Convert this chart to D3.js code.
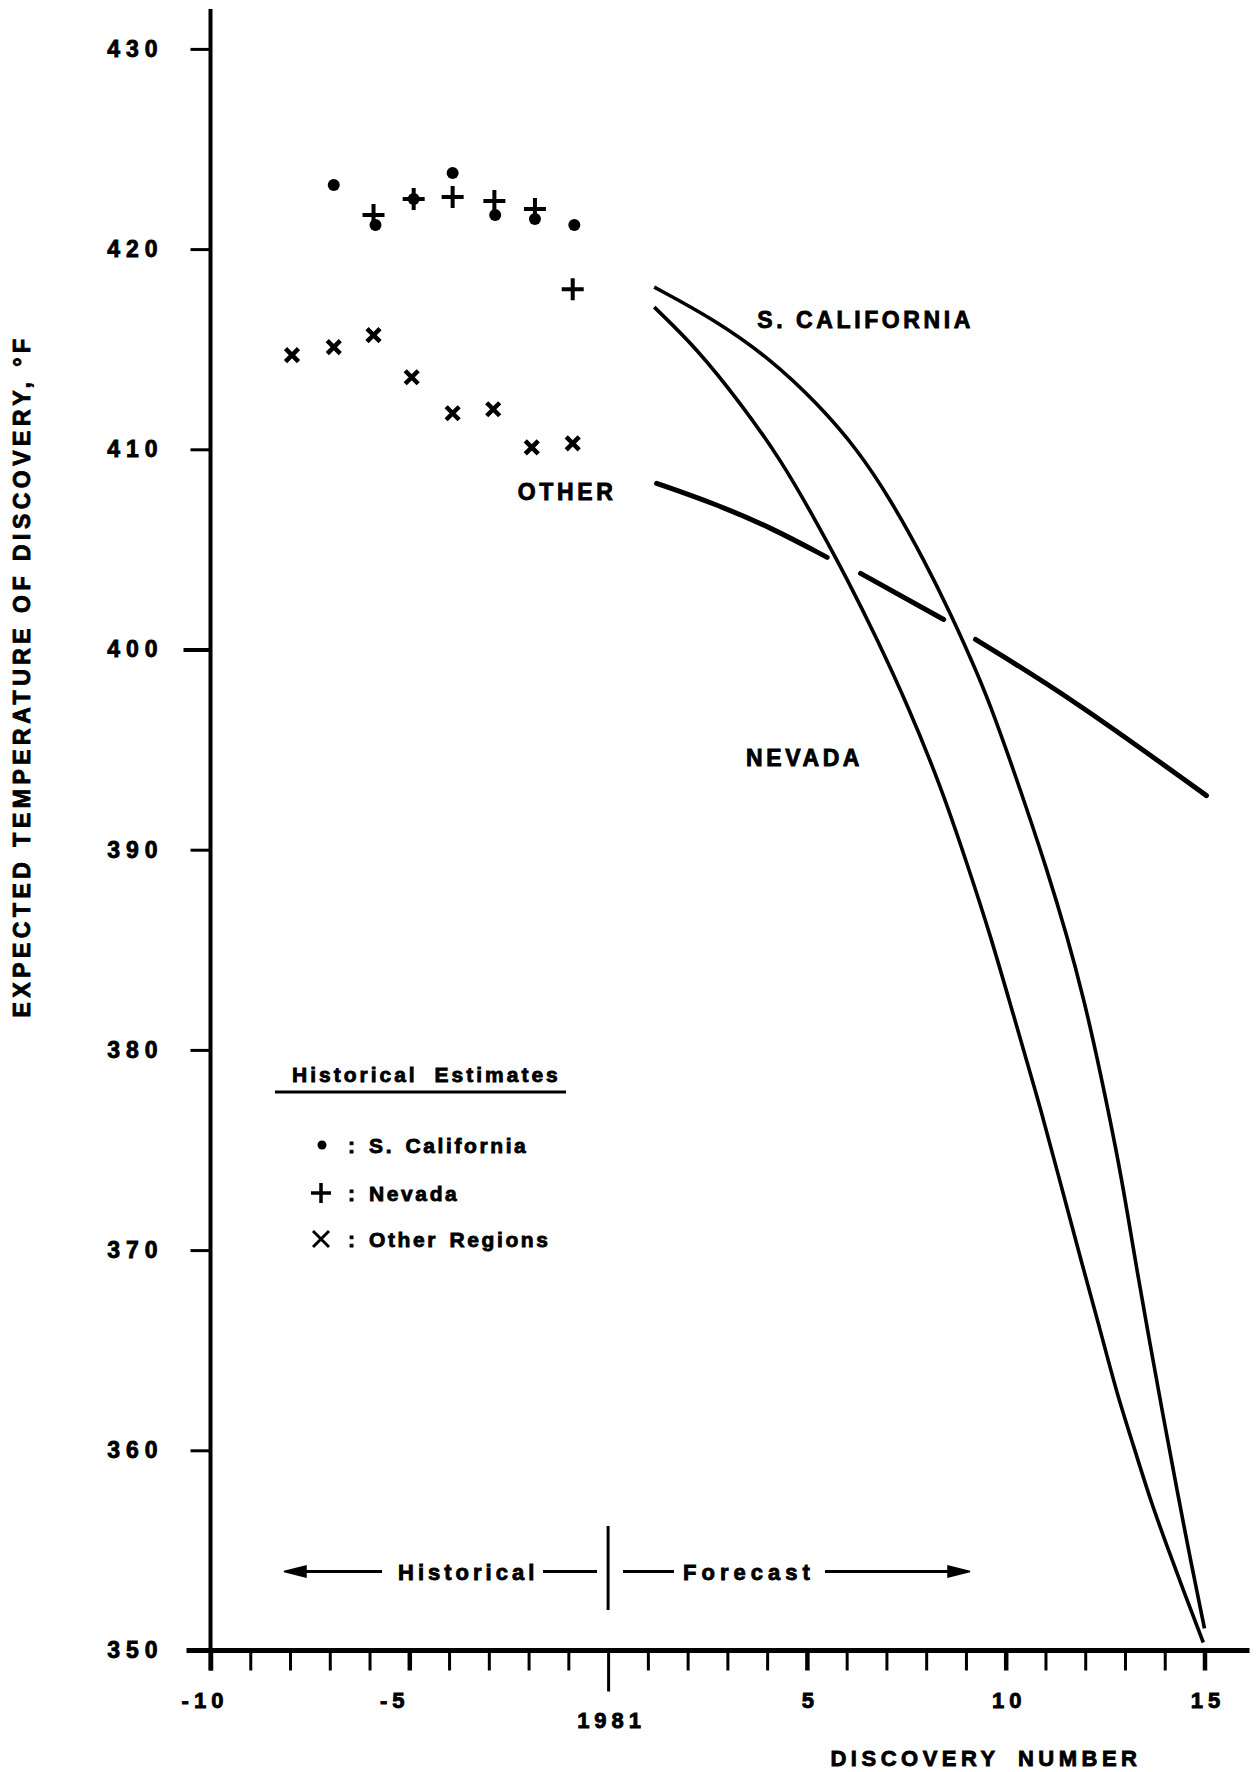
<!DOCTYPE html>
<html>
<head>
<meta charset="utf-8">
<title>Expected temperature of discovery</title>
<style>
  body { margin: 0; background: #fff; }
  svg text { font-family: "Liberation Sans", Arial, sans-serif; font-weight: bold; fill: #000; stroke: #000; stroke-width: 0.85px; }
</style>
</head>
<body>
<svg id="viz" width="1256" height="1772"></svg>
<script src="https://d3js.org/d3.v7.min.js"></script>
<script>
// ---- data ----
const yTicks = [350, 360, 370, 380, 390, 400, 410, 420, 430];
const xTicks = d3.range(-10, 16);
const xLabelVals = [-10, -5, 0, 5, 10, 15];
const xLabelText = ["-10", "-5", "1981", "5", "10", "15"];

// historical estimates (points)
const scalHistX = [-6.9, -5.85, -4.89, -3.91, -2.84, -1.84, -0.85];
const scalHistY = [423.2, 421.2, 422.5, 423.8, 421.7, 421.5, 421.2];
const nevHistX = [-5.9, -4.89, -3.91, -2.86, -1.84, -0.89];
const nevHistY = [421.7, 422.5, 422.6, 422.4, 422.0, 418.0];
const othHistX = [-7.95, -6.9, -5.9, -4.94, -3.91, -2.89, -1.92, -0.89];
const othHistY = [414.7, 415.1, 415.7, 413.6, 411.8, 412.0, 410.1, 410.3];

// forecast curves
const scalFcX = [1.16, 2.66, 4.09, 5.26, 6.27, 7.10, 7.94, 8.61, 9.11, 9.57, 10.37, 11.04, 11.54, 11.96, 12.38, 12.80, 13.05, 13.30, 13.64, 13.97, 14.31, 14.64, 15.0];
const scalFcY = [418.1, 416.5, 414.5, 412.3, 410.0, 407.5, 404.5, 401.8, 399.6, 397.5, 393.0, 389.0, 385.7, 382.6, 378.9, 374.8, 372.0, 369.0, 365.2, 361.6, 358.0, 354.6, 351.1];
const nevFcX = [1.16, 2.25, 3.33, 4.34, 5.26, 6.02, 6.77, 7.56, 8.36, 9.03, 9.62, 10.20, 10.79, 11.29, 11.96, 12.38, 12.80, 13.22, 13.64, 14.06, 14.47, 14.97];
const nevFcY = [417.1, 415.0, 412.3, 409.5, 406.3, 403.5, 400.5, 397.1, 393.2, 389.3, 385.7, 381.7, 377.7, 374.0, 369.0, 366.0, 362.8, 360.2, 357.5, 355.2, 353.0, 350.4];
// null = break in the line where it passes the other curves
const othFcX = [1.22, 2.66, 4.09, 5.51, null, 6.35, 8.44, null, 9.24, 11.63, 15.05];
const othFcY = [408.3, 407.3, 406.1, 404.6, null, 403.8, 401.5, null, 400.5, 397.6, 392.7];

// ---- scales ----
const x = d3.scaleLinear().domain([-10, 15]).range([210.5, 1204.5]);
const y = d3.scaleLinear().domain([350, 430]).range([1650.5, 48.9]);

const svg = d3.select("#viz");
const g = svg.append("g");

// y axis
g.append("g")
  .attr("transform", `translate(${x(-10)},0)`)
  .call(d3.axisLeft(y).tickValues(yTicks).tickSize(20).tickPadding(27).tickFormat(d3.format("d")))
  .call(a => a.select(".domain").remove())
  .call(a => a.selectAll(".tick line").attr("stroke", "#000").attr("stroke-width", 3)
      .filter(d => d === 400).attr("x2", -27).attr("stroke-width", 4))
  .call(a => a.selectAll(".tick text")
      .attr("font-size", 23).attr("letter-spacing", 6).attr("fill", "#000")
      .attr("font-family", "Liberation Sans, Arial, sans-serif"));

g.append("line")
  .attr("x1", x(-10)).attr("x2", x(-10))
  .attr("y1", y(430) - 40).attr("y2", y(350) + 20)
  .attr("stroke", "#000").attr("stroke-width", 4);

// x axis
g.append("g")
  .attr("transform", `translate(0,${y(350)})`)
  .call(d3.axisBottom(x).tickValues(xTicks).tickSize(20).tickPadding(22)
      .tickFormat(d => { const i = xLabelVals.indexOf(d); return i < 0 ? "" : xLabelText[i]; }))
  .call(a => a.select(".domain").remove())
  .call(a => a.selectAll(".tick line").attr("stroke", "#000").attr("stroke-width", 3))
  .call(a => a.selectAll(".tick").filter(d => xLabelVals.includes(d)).select("line").attr("stroke-width", 4.5))
  .call(a => a.selectAll(".tick").filter(d => d === 0).select("line").attr("y2", 41).attr("stroke-width", 3))
  .call(a => a.selectAll(".tick text")
      .attr("font-size", 22).attr("letter-spacing", 5).attr("fill", "#000")
      .attr("font-family", "Liberation Sans, Arial, sans-serif")
      .attr("dx", d => d === -5 ? -15 : d < 0 ? -6 : 3))
  .call(a => a.selectAll(".tick").filter(d => d === 0).select("text").attr("y", 62));

g.append("line")
  .attr("x1", x(-10) - 24).attr("x2", x(15) + 45)
  .attr("y1", y(350)).attr("y2", y(350))
  .attr("stroke", "#000").attr("stroke-width", 5);

// axis titles
g.append("text")
  .attr("transform", "translate(22,676) rotate(-90)")
  .attr("text-anchor", "middle").attr("dominant-baseline", "central")
  .attr("font-size", 23).attr("letter-spacing", 4.5)
  .text("EXPECTED TEMPERATURE OF DISCOVERY, °F");

g.append("text")
  .attr("x", 986).attr("y", 1766)
  .attr("text-anchor", "middle")
  .attr("font-size", 22).attr("letter-spacing", 4.5).attr("word-spacing", 8)
  .text("DISCOVERY NUMBER");

// forecast curves
const line = d3.line()
  .defined(d => d[0] !== null)
  .x(d => x(d[0])).y(d => y(d[1]))
  .curve(d3.curveBasis);

g.append("path").datum(d3.zip(scalFcX, scalFcY))
  .attr("d", line).attr("fill", "none").attr("stroke", "#000").attr("stroke-width", 3.6);
g.append("path").datum(d3.zip(nevFcX, nevFcY))
  .attr("d", line).attr("fill", "none").attr("stroke", "#000").attr("stroke-width", 3.6);
g.append("path").datum(d3.zip(othFcX, othFcY))
  .attr("d", line).attr("fill", "none").attr("stroke", "#000").attr("stroke-width", 5).attr("stroke-linecap", "round");

// historical points
g.append("g").selectAll("circle").data(d3.zip(scalHistX, scalHistY)).join("circle")
  .attr("cx", d => x(d[0])).attr("cy", d => y(d[1])).attr("r", 6).attr("fill", "#000");

g.append("g").selectAll("path").data(d3.zip(nevHistX, nevHistY)).join("path")
  .attr("d", d => { const cx = x(d[0]), cy = y(d[1]);
    return `M${cx - 11},${cy}H${cx + 11}M${cx},${cy - 11}V${cy + 11}`; })
  .attr("stroke", "#000").attr("stroke-width", 4);

g.append("g").selectAll("path").data(d3.zip(othHistX, othHistY)).join("path")
  .attr("d", d => { const cx = x(d[0]), cy = y(d[1]), s = 6.5;
    return `M${cx - s},${cy - s}L${cx + s},${cy + s}M${cx - s},${cy + s}L${cx + s},${cy - s}`; })
  .attr("stroke", "#000").attr("stroke-width", 4.5);

// region labels
const lab = (t, vx, vy) => g.append("text").attr("x", x(vx)).attr("y", y(vy))
  .attr("font-size", 23).attr("letter-spacing", 3.6).text(t);
lab("S. CALIFORNIA", 3.75, 416.06);
lab("OTHER", -2.27, 407.46);
lab("NEVADA", 3.47, 394.17);

// legend
const lg = g.append("g");
lg.append("text").attr("x", 292).attr("y", 1082)
  .attr("font-size", 21).attr("letter-spacing", 3).attr("word-spacing", 8)
  .text("Historical Estimates");
lg.append("line").attr("x1", 275).attr("x2", 566).attr("y1", 1092).attr("y2", 1092)
  .attr("stroke", "#000").attr("stroke-width", 3);
lg.append("circle").attr("cx", 322).attr("cy", 1145).attr("r", 4.5).attr("fill", "#000");
lg.append("path").attr("d", "M311,1193H331M321,1183V1203").attr("stroke", "#000").attr("stroke-width", 3.5);
lg.append("path").attr("d", "M313,1231L329,1247M313,1247L329,1231").attr("stroke", "#000").attr("stroke-width", 3);
[[": S. California", 1145], [": Nevada", 1193], [": Other Regions", 1239]].forEach(([t, cy]) =>
  lg.append("text").attr("x", 348).attr("y", cy + 8)
    .attr("font-size", 21).attr("letter-spacing", 2.6).attr("word-spacing", 3).text(t));

// historical / forecast divider
const ay = 1571.5;
const ann = g.append("g").attr("stroke", "#000").attr("fill", "#000");
ann.append("line").attr("x1", x(0)).attr("x2", x(0)).attr("y1", 1526).attr("y2", 1610).attr("stroke-width", 3);
ann.append("line").attr("x1", 296).attr("x2", 382).attr("y1", ay).attr("y2", ay).attr("stroke-width", 3);
ann.append("path").attr("d", `M284,${ay}L306,${ay - 5.5}L306,${ay + 5.5}Z`).attr("stroke-width", 1.5);
ann.append("line").attr("x1", 543).attr("x2", 597).attr("y1", ay).attr("y2", ay).attr("stroke-width", 3);
ann.append("line").attr("x1", 623).attr("x2", 674).attr("y1", ay).attr("y2", ay).attr("stroke-width", 3);
ann.append("line").attr("x1", 825).attr("x2", 958).attr("y1", ay).attr("y2", ay).attr("stroke-width", 3);
ann.append("path").attr("d", `M970,${ay}L948,${ay - 5.5}L948,${ay + 5.5}Z`).attr("stroke-width", 1.5);
g.append("text").attr("x", 398).attr("y", ay + 8).attr("font-size", 22).attr("letter-spacing", 4).text("Historical");
g.append("text").attr("x", 683).attr("y", ay + 8).attr("font-size", 22).attr("letter-spacing", 5).text("Forecast");
</script>
</body>
</html>
